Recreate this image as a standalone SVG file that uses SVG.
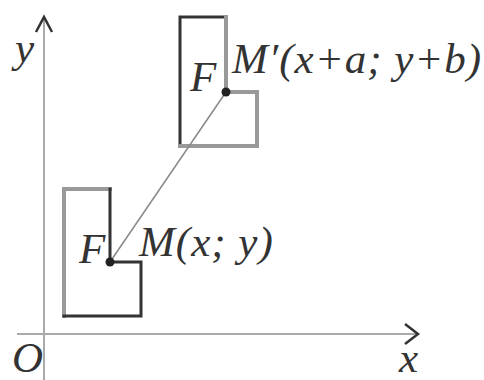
<svg xmlns="http://www.w3.org/2000/svg" width="484" height="380" viewBox="0 0 484 380">
<style>
.axis{stroke:#aaa;stroke-width:2;fill:none}
.head{stroke:#333;stroke-width:2.5;fill:none;stroke-linejoin:miter}
.dark{stroke:#333;stroke-width:3;fill:none;stroke-linecap:square}
.light{stroke:#999;stroke-width:4;fill:none;stroke-linecap:square}
.seg{stroke:#888;stroke-width:1.5}
.lbl{font-family:"Liberation Serif","DejaVu Serif",serif;font-style:italic;font-size:43px;fill:#333}
.pt{letter-spacing:1px}
</style>
<rect width="484" height="380" fill="#fff"/>
<g id="axes">
<line class="axis" x1="44" y1="380" x2="44" y2="16"/>
<polyline class="head" points="36,32 44,17 52,32"/>
<line class="axis" x1="17" y1="334" x2="417" y2="334"/>
<polyline class="head" points="405,324 418,334 405,344"/>
<text class="lbl" x="15" y="62">y</text>
<text class="lbl" x="12" y="372">O</text>
<text class="lbl" x="399" y="372">x</text>
</g>
<g id="figure-F">
<polyline class="light" points="64,316 64,189 110,189"/>
<polyline class="dark" points="110,189 110,262 141,262 141,316 64,316"/>
<text class="lbl" x="79" y="263">F</text>
</g>
<g id="figure-F2">
<polyline class="dark" points="180,146 180,17 226,17"/>
<polyline class="light" points="226,17 226,92 257,92 257,146 180,146"/>
<text class="lbl" x="190" y="91">F</text>
</g>
<g id="connectors">
<line class="seg" x1="110" y1="262" x2="226" y2="92"/>
</g>
<g id="point-M">
<circle cx="110" cy="262" r="4.5" fill="#222"/>
<text class="lbl pt" x="139" y="256">M(x; y)</text>
</g>
<g id="point-M2">
<circle cx="226" cy="92" r="4.5" fill="#222"/>
<text class="lbl pt" x="232" y="73">M′(x+a; y+b)</text>
</g>
</svg>
